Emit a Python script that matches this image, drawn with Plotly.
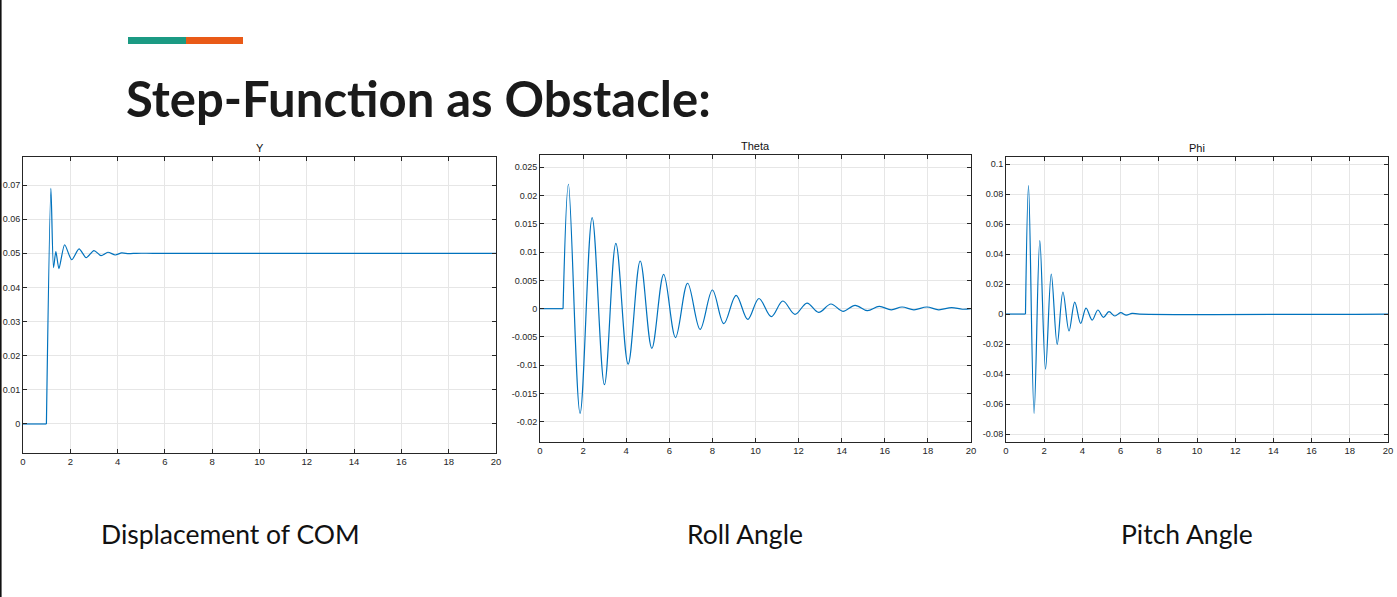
import plotly.graph_objects as go

W, H = 1397, 597

# ---------------- data ----------------
# pre-step flat part (t, value) and the response after the step
y_pre_t = [0, 0.99]
y_pre_v = [0, 0]
y_t = [0.99, 1.18, 1.29, 1.39, 1.52, 1.76, 2.06, 2.37, 2.67, 3.0, 3.3, 3.59, 3.9, 4.17, 4.47, 4.8, 5.5, 20]
y_v = [0, 0.0690, 0.0458, 0.0505, 0.0455, 0.0525, 0.0481, 0.0513, 0.0487, 0.0508, 0.0493, 0.0503, 0.0495,
       0.0501, 0.0499, 0.05, 0.05, 0.05]

theta_pre_t = [0, 1.07]
theta_pre_v = [0, 0]
theta_t = [1.07, 1.32, 1.86, 2.42, 2.99, 3.52, 4.09, 4.65, 5.19, 5.74, 6.29, 6.85, 7.43, 8.0, 8.53, 9.1,
           9.64, 10.16, 10.73, 11.27, 11.83, 12.39, 12.93, 13.5, 14.06, 14.62, 15.19, 15.74, 16.3, 16.8,
           17.35, 17.95, 18.5, 19.1, 19.6, 20]
theta_v = [0, 0.0220, -0.0185, 0.0161, -0.01344, 0.01156, -0.0098, 0.00843, -0.0070, 0.00607, -0.0051,
           0.0045, -0.00366, 0.0033, -0.00265, 0.00236, -0.0019, 0.0018, -0.0014, 0.00136, -0.0010, 0.0010,
           -0.00065, 0.00083, -0.00047, 0.0006, -0.00035, 0.0004, -0.0002, 0.0003, -0.0002, 0.0003, -0.0002,
           0.0002, -0.0001, 0]

phi_pre_t = [0, 1.02]
phi_pre_v = [0, 0]
phi_t = [1.02, 1.18, 1.47, 1.77, 2.07, 2.37, 2.68, 2.98, 3.3, 3.6, 3.91, 4.19, 4.51, 4.81, 5.1, 5.39,
         5.7, 6.0, 6.3, 6.6, 7.0, 20]
phi_v = [0, 0.0856, -0.0662, 0.0489, -0.0367, 0.0267, -0.0202, 0.0147, -0.0113, 0.0080, -0.0062, 0.0040,
         -0.0040, 0.0027, -0.0022, 0.0016, -0.0013, 0.0009, -0.0007, 0.0004, 0, 0]

x_ticks = list(range(0, 21, 2))
y1_ticks = [0, 0.01, 0.02, 0.03, 0.04, 0.05, 0.06, 0.07]
y1_labels = ["0", "0.01", "0.02", "0.03", "0.04", "0.05", "0.06", "0.07"]
y2_ticks = [-0.02, -0.015, -0.01, -0.005, 0, 0.005, 0.01, 0.015, 0.02, 0.025]
y2_labels = ["-0.02", "-0.015", "-0.01", "-0.005", "0", "0.005", "0.01", "0.015", "0.02", "0.025"]
y3_ticks = [-0.08, -0.06, -0.04, -0.02, 0, 0.02, 0.04, 0.06, 0.08, 0.1]
y3_labels = ["-0.08", "-0.06", "-0.04", "-0.02", "0", "0.02", "0.04", "0.06", "0.08", "0.1"]

panel_titles = ["Y", "Theta", "Phi"]
captions = ["Displacement of COM", "Roll Angle", "Pitch Angle"]
heading = "Step-Function as Obstacle:"

# ---------------- layout helpers ----------------
def px(x):
    return x / W

def py(y):
    return 1 - y / H

boxes = [  # left, right, top, bottom in pixels
    (23, 496, 157, 453),
    (540, 971, 155, 442),
    (1006, 1388, 157, 442),
]
yranges = [(-0.0085, 0.0782), (-0.02357, 0.02717), (-0.0853, 0.1047)]
yticks = [(y1_ticks, y1_labels), (y2_ticks, y2_labels), (y3_ticks, y3_labels)]
series = [((y_pre_t, y_pre_v), (y_t, y_v), 0.7),
          ((theta_pre_t, theta_pre_v), (theta_t, theta_v), 1.0),
          ((phi_pre_t, phi_pre_v), (phi_t, phi_v), 1.0)]
caption_x = [230, 745, 1187]

LINE = "#0072BD"
AX = "#262626"
GRID = "#e6e6e6"
XTICKFONT = dict(family="Liberation Sans, Arial, sans-serif", size=9.5, color=AX)
YTICKFONT = dict(family="Liberation Sans, Arial, sans-serif", size=9, color=AX)

fig = go.Figure()
layout = dict(
    width=W, height=H,
    margin=dict(l=0, r=0, t=0, b=0),
    paper_bgcolor="white", plot_bgcolor="white",
    showlegend=False,
)

annotations = []
for i, ((l, r, t, b), yr, (tv, tl), (pre, post, sm)) in enumerate(zip(boxes, yranges, yticks, series)):
    n = "" if i == 0 else str(i + 1)
    fig.add_trace(go.Scatter(
        x=pre[0], y=pre[1], mode="lines",
        line=dict(color=LINE, width=1.2),
        xaxis="x" + n, yaxis="y" + n, hoverinfo="skip",
    ))
    fig.add_trace(go.Scatter(
        x=post[0], y=post[1], mode="lines",
        line=dict(color=LINE, width=1.2, shape="spline", smoothing=sm),
        xaxis="x" + n, yaxis="y" + n, hoverinfo="skip",
    ))
    layout["xaxis" + n] = dict(
        domain=[px(l), px(r)], range=[0, 20], anchor="y" + n, automargin=False,
        tickvals=x_ticks, ticktext=[str(v) for v in x_ticks],
        ticks="inside", ticklen=4, tickcolor=AX, tickwidth=1,
        showline=True, linecolor=AX, linewidth=1, mirror="ticks",
        showgrid=True, gridcolor=GRID, gridwidth=1, zeroline=False,
        tickfont=XTICKFONT, fixedrange=True,
    )
    layout["yaxis" + n] = dict(
        domain=[py(b), py(t)], range=list(yr), anchor="x" + n, automargin=False,
        tickvals=tv, ticktext=tl,
        ticks="inside", ticklen=4, tickcolor=AX, tickwidth=1,
        showline=True, linecolor=AX, linewidth=1, mirror="ticks",
        showgrid=True, gridcolor=GRID, gridwidth=1, zeroline=False,
        tickfont=YTICKFONT, fixedrange=True,
    )
    annotations.append(dict(
        text=panel_titles[i], xref="paper", yref="paper",
        x=px((l + r) / 2), y=py(t - 1), xanchor="center", yanchor="bottom",
        showarrow=False, font=dict(family="Liberation Sans, Arial, sans-serif", size=11, color="#111"),
    ))
    annotations.append(dict(
        text=captions[i], xref="paper", yref="paper",
        x=px(caption_x[i]), y=py(534), xanchor="center", yanchor="middle",
        showarrow=False, font=dict(family="Lato, sans-serif", size=26.5, color="#111"),
    ))

annotations.append(dict(
    text="<b>" + heading + "</b>", xref="paper", yref="paper",
    x=px(124), y=py(98), xanchor="left", yanchor="middle",
    showarrow=False, font=dict(family="Lato, sans-serif", size=49, color="#1a1a1a"),
))

shapes = [
    dict(type="rect", xref="paper", yref="paper", x0=px(128), x1=px(186), y0=py(44), y1=py(37),
         fillcolor="#1b9a83", line=dict(width=0)),
    dict(type="rect", xref="paper", yref="paper", x0=px(186), x1=px(243), y0=py(44), y1=py(37),
         fillcolor="#e95a17", line=dict(width=0)),
    dict(type="line", xref="paper", yref="paper", x0=px(0.8), x1=px(0.8), y0=0, y1=1,
         line=dict(color="#111", width=1.6)),
]

layout["annotations"] = annotations
layout["shapes"] = shapes
fig.update_layout(**layout)
fig.write_html("out.html")
